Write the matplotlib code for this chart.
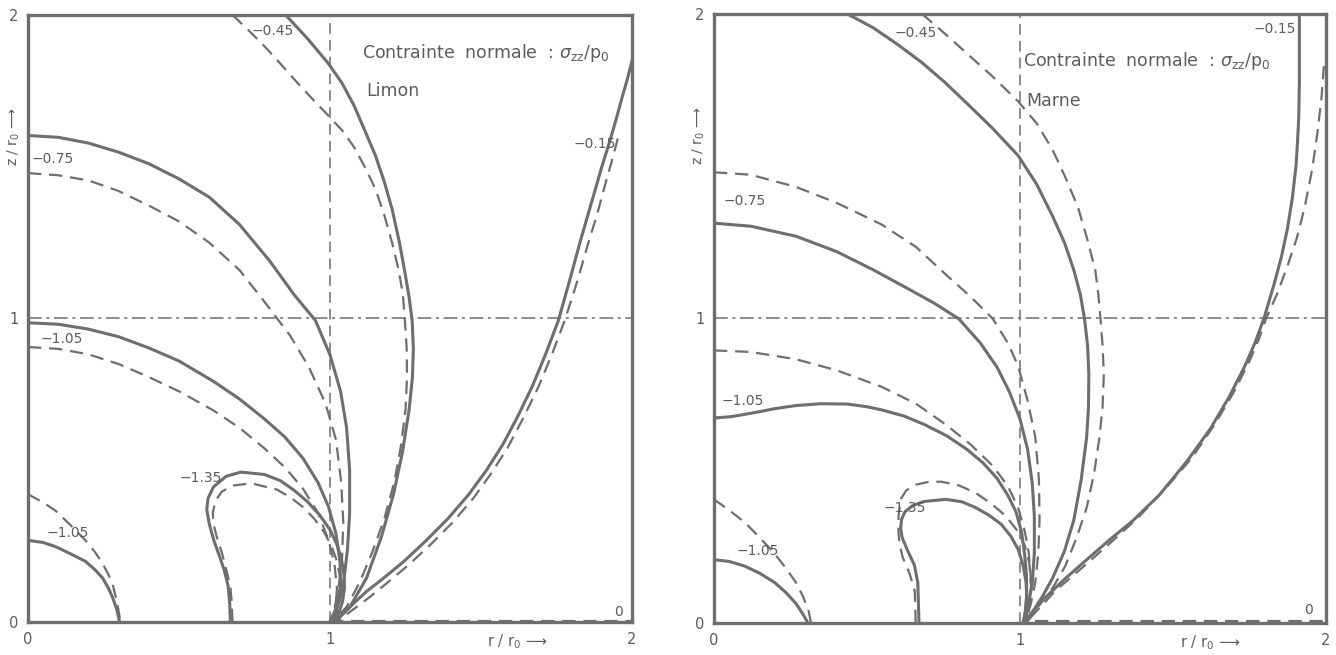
import matplotlib
matplotlib.use("Agg")
import matplotlib.pyplot as plt

plt.rcParams['font.family'] = ['DejaVu Sans']
plt.rcParams['mathtext.fontset'] = 'dejavusans'

# ---------------- LEFT PANEL (Limon) ----------------
L_s075_r = [0, 0.1, 0.2, 0.3, 0.4, 0.5, 0.6, 0.7, 0.8, 0.88, 0.952, 1.0, 1.035, 1.055, 1.065, 1.065, 1.058, 1.045, 1.025, 1.0]
L_s075_z = [1.603, 1.597, 1.578, 1.548, 1.51, 1.46, 1.40, 1.31, 1.19, 1.08, 0.993, 0.88, 0.76, 0.64, 0.5, 0.36, 0.24, 0.13, 0.05, 0.0]
L_d075_r = [0, 0.1, 0.2, 0.3, 0.4, 0.5, 0.6, 0.7, 0.783, 0.867, 0.93, 0.985, 1.02, 1.037, 1.044, 1.04, 1.028, 1.012, 1.0]
L_d075_z = [1.479, 1.472, 1.455, 1.42, 1.372, 1.32, 1.25, 1.16, 1.055, 0.945, 0.84, 0.72, 0.6, 0.46, 0.33, 0.21, 0.11, 0.03, 0.0]
L_s105_r = [0, 0.1, 0.2, 0.3, 0.4, 0.5, 0.614, 0.7, 0.783, 0.85, 0.91, 0.96, 0.995, 1.02, 1.033, 1.035, 1.022, 1.0]
L_s105_z = [0.986, 0.981, 0.965, 0.94, 0.903, 0.86, 0.793, 0.735, 0.669, 0.61, 0.54, 0.46, 0.38, 0.29, 0.2, 0.12, 0.05, 0.0]
L_d105_r = [0, 0.1, 0.2, 0.3, 0.4, 0.5, 0.614, 0.7, 0.783, 0.85, 0.91, 0.96, 0.995, 1.015, 1.023, 1.018, 1.003]
L_d105_z = [0.906, 0.9, 0.882, 0.85, 0.807, 0.76, 0.697, 0.64, 0.572, 0.51, 0.44, 0.36, 0.27, 0.19, 0.11, 0.04, 0.0]
L_s045_r = [0.853, 0.924, 0.994, 1.04, 1.079, 1.115, 1.15, 1.18, 1.206, 1.23, 1.248, 1.262, 1.272, 1.276, 1.273, 1.262, 1.24, 1.21, 1.17, 1.121, 1.065, 1.016]
L_s045_z = [2.0, 1.924, 1.841, 1.775, 1.703, 1.62, 1.538, 1.45, 1.359, 1.25, 1.152, 1.07, 0.993, 0.9, 0.807, 0.7, 0.56, 0.42, 0.28, 0.145, 0.048, 0.0]
L_d045_r = [0.677, 0.73, 0.783, 0.84, 0.896, 0.945, 0.994, 1.04, 1.079, 1.115, 1.15, 1.18, 1.206, 1.226, 1.241, 1.248, 1.254, 1.255, 1.25, 1.235, 1.213, 1.18, 1.14, 1.098, 1.055, 1.01]
L_d045_z = [2.0, 1.95, 1.897, 1.835, 1.772, 1.72, 1.669, 1.62, 1.566, 1.5, 1.428, 1.34, 1.248, 1.165, 1.083, 0.993, 0.9, 0.807, 0.7, 0.58, 0.462, 0.34, 0.23, 0.13, 0.05, 0.0]
L_s015_r = [2.0, 1.985, 1.968, 1.947, 1.925, 1.9, 1.883, 1.855, 1.827, 1.792, 1.756, 1.715, 1.671, 1.623, 1.573, 1.518, 1.46, 1.39, 1.319, 1.245, 1.178, 1.12, 1.079, 1.045, 1.015]
L_s015_z = [1.85, 1.79, 1.731, 1.655, 1.579, 1.5, 1.441, 1.345, 1.248, 1.12, 0.993, 0.885, 0.779, 0.68, 0.586, 0.5, 0.421, 0.34, 0.269, 0.2, 0.145, 0.1, 0.062, 0.03, 0.004]
L_d015_r = [1.953, 1.932, 1.911, 1.885, 1.855, 1.818, 1.777, 1.736, 1.692, 1.64, 1.587, 1.532, 1.474, 1.405, 1.333, 1.26, 1.192, 1.135, 1.086, 1.055, 1.025]
L_d015_z = [1.593, 1.515, 1.441, 1.345, 1.248, 1.12, 0.993, 0.885, 0.779, 0.672, 0.572, 0.487, 0.407, 0.327, 0.255, 0.188, 0.131, 0.085, 0.048, 0.025, 0.004]
L_s135_r = [0.67, 0.668, 0.663, 0.65, 0.635, 0.615, 0.60, 0.592, 0.596, 0.614, 0.656, 0.705, 0.783, 0.835, 0.881, 0.925, 0.966, 1.0, 1.023, 1.038, 1.046, 1.048, 1.042, 1.03, 1.01]
L_s135_z = [0.0, 0.06, 0.117, 0.17, 0.214, 0.27, 0.324, 0.37, 0.407, 0.445, 0.48, 0.494, 0.486, 0.466, 0.434, 0.397, 0.352, 0.304, 0.255, 0.207, 0.159, 0.113, 0.07, 0.032, 0.0]
L_d135_r = [0.677, 0.675, 0.67, 0.656, 0.642, 0.625, 0.614, 0.612, 0.62, 0.64, 0.675, 0.74, 0.825, 0.87, 0.91, 0.948, 0.98, 1.005, 1.023, 1.033, 1.037, 1.032, 1.02, 1.005]
L_d135_z = [0.0, 0.06, 0.117, 0.175, 0.228, 0.28, 0.324, 0.36, 0.397, 0.428, 0.449, 0.457, 0.436, 0.41, 0.379, 0.34, 0.297, 0.25, 0.2, 0.15, 0.103, 0.06, 0.025, 0.0]
L_s105b_r = [0, 0.05, 0.092, 0.14, 0.19, 0.222, 0.247, 0.267, 0.282, 0.295, 0.303]
L_s105b_z = [0.269, 0.262, 0.248, 0.225, 0.2, 0.172, 0.145, 0.11, 0.076, 0.038, 0.0]
L_d105b_r = [0, 0.05, 0.092, 0.14, 0.19, 0.222, 0.247, 0.267, 0.282, 0.296, 0.306]
L_d105b_z = [0.421, 0.394, 0.366, 0.32, 0.269, 0.23, 0.193, 0.155, 0.117, 0.06, 0.0]
L_d0_r = [1.0, 2.0]
L_d0_z = [0.004, 0.004]

L_labels = ["\u22120.45", "\u22120.75", "\u22121.05", "\u22120.15", "\u22121.35", "\u22121.05", "0"]
L_lab_r = [0.81, 0.08, 0.11, 1.875, 0.571, 0.13, 1.954]
L_lab_z = [1.948, 1.527, 0.934, 1.575, 0.476, 0.292, 0.034]

# ---------------- RIGHT PANEL (Marne) ----------------
R_s045_r = [0.436, 0.52, 0.60, 0.68, 0.755, 0.827, 0.91, 0.994, 1.055, 1.106, 1.145, 1.176, 1.197, 1.211, 1.221, 1.225, 1.224, 1.218, 1.2, 1.176, 1.145, 1.106, 1.075, 1.05, 1.015]
R_s045_z = [2.0, 1.955, 1.9, 1.84, 1.775, 1.706, 1.625, 1.535, 1.44, 1.337, 1.25, 1.159, 1.08, 0.999, 0.91, 0.817, 0.71, 0.611, 0.47, 0.338, 0.235, 0.146, 0.09, 0.05, 0.0]
R_d045_r = [0.68, 0.755, 0.827, 0.91, 0.994, 1.055, 1.106, 1.15, 1.19, 1.22, 1.246, 1.256, 1.263, 1.27, 1.274, 1.27, 1.26, 1.242, 1.218, 1.185, 1.148, 1.11, 1.078, 1.05, 1.025]
R_d045_z = [2.0, 1.935, 1.87, 1.795, 1.713, 1.64, 1.555, 1.46, 1.364, 1.26, 1.159, 1.08, 0.999, 0.91, 0.817, 0.71, 0.611, 0.49, 0.379, 0.28, 0.187, 0.12, 0.078, 0.04, 0.005]
R_d075_r = [0, 0.12, 0.268, 0.4, 0.547, 0.66, 0.757, 0.84, 0.911, 0.96, 0.994, 1.025, 1.05, 1.062, 1.064, 1.06, 1.05, 1.035, 1.012]
R_d075_z = [1.48, 1.472, 1.432, 1.38, 1.309, 1.235, 1.145, 1.07, 0.999, 0.92, 0.844, 0.73, 0.611, 0.47, 0.338, 0.23, 0.133, 0.06, 0.0]
R_s075_r = [0, 0.12, 0.268, 0.4, 0.52, 0.63, 0.72, 0.8, 0.87, 0.925, 0.965, 1.0, 1.025, 1.04, 1.047, 1.047, 1.04, 1.027, 1.012]
R_s075_z = [1.313, 1.303, 1.27, 1.22, 1.16, 1.1, 1.05, 0.999, 0.92, 0.84, 0.76, 0.67, 0.57, 0.46, 0.35, 0.23, 0.13, 0.055, 0.0]
R_d105_r = [0, 0.12, 0.268, 0.4, 0.547, 0.66, 0.757, 0.84, 0.911, 0.96, 0.994, 1.016, 1.029, 1.035, 1.032, 1.02]
R_d105_z = [0.895, 0.89, 0.866, 0.83, 0.776, 0.72, 0.652, 0.585, 0.516, 0.45, 0.379, 0.3, 0.228, 0.15, 0.075, 0.01]
R_s105_r = [0, 0.06, 0.128, 0.2, 0.268, 0.35, 0.436, 0.5, 0.547, 0.62, 0.687, 0.76, 0.827, 0.88, 0.925, 0.96, 0.987, 1.005, 1.015, 1.021, 1.022, 1.015]
R_s105_z = [0.673, 0.678, 0.69, 0.704, 0.714, 0.72, 0.719, 0.71, 0.70, 0.68, 0.652, 0.615, 0.57, 0.525, 0.475, 0.42, 0.365, 0.3, 0.228, 0.16, 0.092, 0.01]
R_s135_r = [0.67, 0.668, 0.666, 0.655, 0.631, 0.615, 0.61, 0.613, 0.624, 0.65, 0.687, 0.757, 0.81, 0.855, 0.9, 0.939, 0.97, 0.994, 1.01, 1.02, 1.022, 1.02, 1.01]
R_s135_z = [0.0, 0.07, 0.133, 0.19, 0.242, 0.28, 0.31, 0.34, 0.365, 0.386, 0.399, 0.406, 0.398, 0.379, 0.353, 0.324, 0.285, 0.242, 0.19, 0.133, 0.09, 0.05, 0.0]
R_d135_r = [0.659, 0.658, 0.656, 0.64, 0.617, 0.606, 0.603, 0.603, 0.61, 0.628, 0.659, 0.7, 0.743, 0.8, 0.855, 0.905, 0.953, 0.99, 1.015, 1.03, 1.036, 1.035, 1.029, 1.015]
R_d135_z = [0.0, 0.05, 0.105, 0.16, 0.215, 0.26, 0.297, 0.35, 0.406, 0.435, 0.454, 0.463, 0.464, 0.452, 0.427, 0.393, 0.352, 0.305, 0.256, 0.2, 0.133, 0.085, 0.037, 0.0]
R_s105b_r = [0, 0.05, 0.10, 0.15, 0.198, 0.235, 0.268, 0.29, 0.307]
R_s105b_z = [0.208, 0.202, 0.187, 0.163, 0.133, 0.1, 0.064, 0.03, 0.0]
R_d105b_r = [0, 0.05, 0.10, 0.15, 0.198, 0.235, 0.268, 0.292, 0.31, 0.317]
R_d105b_z = [0.406, 0.37, 0.331, 0.28, 0.228, 0.18, 0.133, 0.085, 0.037, 0.0]
R_s015_r = [1.913, 1.913, 1.911, 1.907, 1.902, 1.89, 1.874, 1.855, 1.832, 1.815, 1.797, 1.768, 1.735, 1.685, 1.623, 1.545, 1.455, 1.37, 1.288, 1.215, 1.148, 1.1, 1.064, 1.04, 1.02]
R_s015_z = [2.0, 1.774, 1.66, 1.58, 1.5, 1.395, 1.295, 1.205, 1.118, 1.06, 0.999, 0.92, 0.844, 0.745, 0.639, 0.53, 0.42, 0.337, 0.269, 0.205, 0.146, 0.1, 0.064, 0.035, 0.008]
R_d015_r = [1.993, 1.985, 1.972, 1.955, 1.93, 1.905, 1.874, 1.84, 1.804, 1.78, 1.749, 1.7, 1.637, 1.56, 1.469, 1.385, 1.302, 1.228, 1.162, 1.11, 1.078, 1.05, 1.025]
R_d015_z = [1.829, 1.72, 1.61, 1.49, 1.364, 1.265, 1.172, 1.08, 0.999, 0.93, 0.858, 0.76, 0.653, 0.54, 0.434, 0.345, 0.269, 0.203, 0.146, 0.1, 0.064, 0.035, 0.008]
R_d0_r = [1.05, 2.0]
R_d0_z = [0.006, 0.006]

R_labels = ["\u22120.45", "\u22120.15", "\u22120.75", "\u22121.05", "\u22121.35", "\u22121.05", "0"]
R_lab_r = [0.659, 1.832, 0.10, 0.094, 0.624, 0.142, 1.944]
R_lab_z = [1.938, 1.952, 1.387, 0.728, 0.379, 0.235, 0.044]

TITLE = "Contrainte  normale  : $\\sigma_{\\mathrm{zz}}/\\mathrm{p}_{\\mathrm{0}}$"
SOILS = ["Limon", "Marne"]
TICKS = [0, 1, 2]
TICKLABELS = ["0", "1", "2"]
XLABEL = "r / r$_{\\mathrm{0}}$ \u27f6"
YLABEL = "z / r$_{\\mathrm{0}}$ \u27f6"

C = "#6e6e6e"
TC = "#5c5c5c"
DASH = (0, (6, 3.5))

fig = plt.figure(figsize=(13.36, 6.55), dpi=100)
axL = fig.add_axes([0.02096, 0.0504, 0.4521, 0.9267])
axR = fig.add_axes([0.5344, 0.0489, 0.4581, 0.9298])

left_solid = [(L_s075_r, L_s075_z), (L_s105_r, L_s105_z), (L_s045_r, L_s045_z),
              (L_s015_r, L_s015_z), (L_s135_r, L_s135_z), (L_s105b_r, L_s105b_z)]
left_dash = [(L_d075_r, L_d075_z), (L_d105_r, L_d105_z), (L_d045_r, L_d045_z),
             (L_d015_r, L_d015_z), (L_d135_r, L_d135_z), (L_d105b_r, L_d105b_z), (L_d0_r, L_d0_z)]
right_solid = [(R_s045_r, R_s045_z), (R_s075_r, R_s075_z), (R_s105_r, R_s105_z),
               (R_s135_r, R_s135_z), (R_s105b_r, R_s105b_z), (R_s015_r, R_s015_z)]
right_dash = [(R_d045_r, R_d045_z), (R_d075_r, R_d075_z), (R_d105_r, R_d105_z),
              (R_d135_r, R_d135_z), (R_d105b_r, R_d105b_z), (R_d015_r, R_d015_z), (R_d0_r, R_d0_z)]

panels = [
    (axL, left_solid, left_dash, L_labels, L_lab_r, L_lab_z, 1.105, 1.876, SOILS[0], 1.12, 1.748),
    (axR, right_solid, right_dash, R_labels, R_lab_r, R_lab_z, 1.011, 1.845, SOILS[1], 1.02, 1.715),
]

for (ax, solids, dashes, labs, lr, lz, tx, ty, soil, sx, sy) in panels:
    ax.set_xlim(0, 2)
    ax.set_ylim(0, 2)
    ax.plot([1, 1], [0, 2], color=C, lw=1.1, linestyle=(0, (7, 4)), zorder=1)
    ax.plot([0, 2], [1, 1], color=C, lw=1.1, linestyle=(0, (9, 3, 2, 3)), zorder=1)
    for r, z in solids:
        ax.plot(r, z, color=C, lw=2.2, solid_capstyle='round', solid_joinstyle='round', zorder=3)
    for r, z in dashes:
        ax.plot(r, z, color=C, lw=1.6, linestyle=DASH, zorder=2)
    for t, x, y in zip(labs, lr, lz):
        ax.text(x, y, t, color=TC, fontsize=10, ha='center', va='center', zorder=4)
    ax.text(tx, ty, TITLE, color=TC, fontsize=12.5, ha='left', va='center')
    ax.text(sx, sy, soil, color=TC, fontsize=12.5, ha='left', va='center')
    ax.set_xticks(TICKS)
    ax.set_xticklabels(TICKLABELS)
    ax.set_yticks(TICKS)
    ax.set_yticklabels(TICKLABELS)
    ax.tick_params(length=0, labelsize=10.5, labelcolor=TC, pad=7)
    for sp in ax.spines.values():
        sp.set_color(C)
        sp.set_linewidth(2.4)
    ax.text(1.62, -0.035, XLABEL, color=TC, fontsize=10.5, ha='center', va='top',
            clip_on=False)
    ax.text(-0.048, 1.6, YLABEL, color=TC, fontsize=10, ha='center', va='center',
            rotation=90, clip_on=False)

fig.savefig("out.png", dpi=100, facecolor="white")
